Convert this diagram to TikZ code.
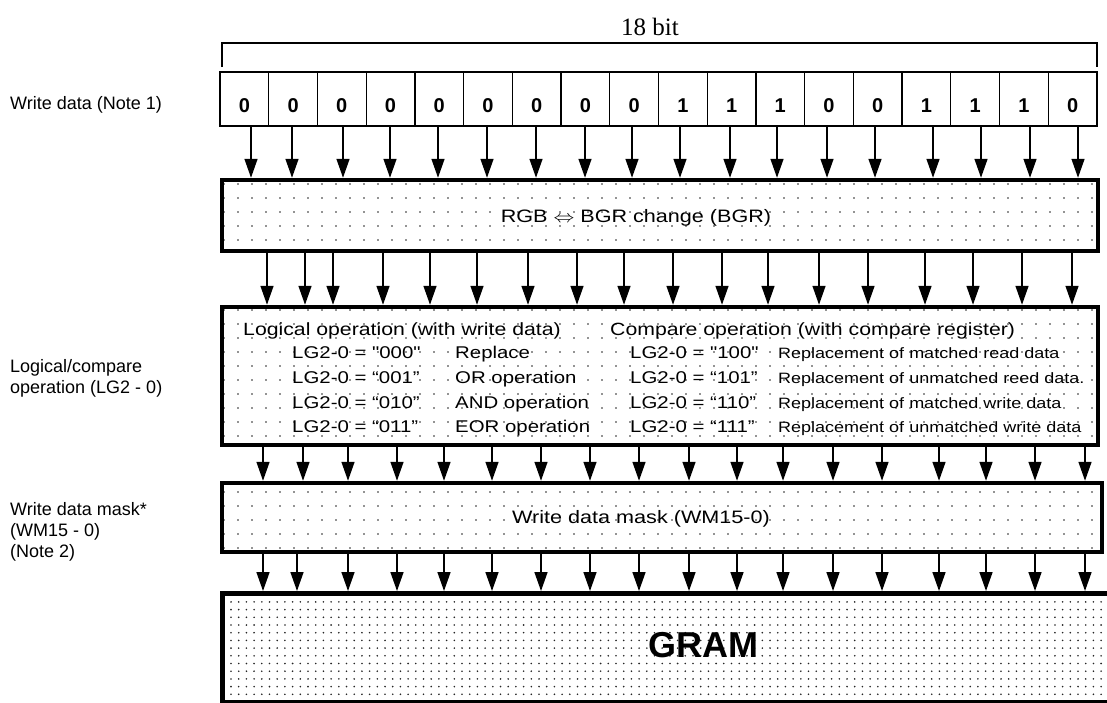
\documentclass[tikz,border=0pt]{standalone}
\usepackage{fontspec}
\setmainfont{Liberation Sans}[Ligatures=TeXOff]
\newfontfamily\seriffont{Liberation Serif}
\usetikzlibrary{arrows.meta,patterns.meta}

% text inside the boxes is printed a little wide
\newcommand{\wide}[1]{\scalebox{1.2}[1]{#1}}

\begin{document}
\begin{tikzpicture}[x=1pt, y=-1pt, >={Triangle[width=13pt,length=19pt]},
  bit/.style={draw, line width=1.3pt, minimum width=48.72pt, minimum height=54pt, inner sep=0pt, font=\fontsize{20}{24}\selectfont\bfseries},
  opbox/.style={draw, line width=4.5pt, inner sep=0pt, pattern={Dots[distance=14pt,radius=0.9pt]}, pattern color=black!85},
  flow/.style={->, line width=1.5pt},
  side/.style={anchor=west, align=left, inner sep=0pt, font=\fontsize{18}{21}\selectfont},
  boxtext/.style={inner sep=0pt, font=\fontsize{18}{21}\selectfont},
  headtext/.style={anchor=base west, inner sep=0pt, font=\fontsize{17.7}{20}\selectfont},
  optext/.style={anchor=base west, inner sep=0pt, font=\fontsize{17}{20}\selectfont},
  reptext/.style={anchor=base west, inner sep=0pt, font=\fontsize{15}{18}\selectfont}]

\useasboundingbox (0,0) rectangle (1107,702);

% Parameters
\def\bw{48.72}   % width of one bit box
\def\bx{220}     % left edge of the bit row

% Side labels
\node[side] (wdlabel) at (10,105) {Write data (Note 1)};
\node[side] (lglabel) at (10,378) {Logical/compare\\operation (LG2 - 0)};
\node[side] (wmlabel) at (10,532) {Write data mask*\\(WM15 - 0)\\(Note 2)};

% Width bracket
\node[font=\seriffont\fontsize{25}{30}\selectfont] (width) at (650,27) {18 bit};
\draw[line width=1.3pt] (222,67) -- (222,43) -- (1097,43) -- (1097,67);

% Write data bits
\foreach \v [count=\i] in {0,0,0,0,0,0,0,0,0,1,1,1,0,0,1,1,1,0}
{
    \node[bit] (b\i) at ({\bx+\bw*(\i-0.5)},99) {\raisebox{-13pt}[0pt][0pt]{\v}};
}

% RGB/BGR change
\node[opbox, minimum width=876pt, minimum height=71pt] (rgb) at (660,215.5) {};
\node[boxtext] (rgbtext) at (636,218) {\wide{RGB $\Leftrightarrow$ BGR change (BGR)}};

% Logical / compare operation
\node[opbox, minimum width=876pt, minimum height=138pt] (logic) at (660,376) {};
\node[headtext] (lhead) at (243,335) {\wide{Logical operation (with write data)}};
\node[headtext] (chead) at (610,335) {\wide{Compare operation (with compare register)}};
\foreach \y/\a/\op/\c/\rep in {358/"000"/Replace/"100"/Replacement of matched read data,
    383/“001”/OR operation/“101”/Replacement of unmatched reed data.,
    408/“010”/AND operation/“110”/Replacement of matched write data,
    432/“011”/EOR operation/“111”/Replacement of unmatched write data}
{
    \node[optext] (la\y) at (292,\y) {\wide{LG2-0 = \a}};
    \node[optext] (lo\y) at (455,\y) {\wide{\op}};
    \node[optext] (ca\y) at (630,\y) {\wide{LG2-0 = \c}};
    \node[reptext] (cr\y) at (778,\y) {\wide{\rep}};
}

% Write data mask
\node[opbox, minimum width=880pt, minimum height=69pt] (mask) at (662,517.5) {};
\node[boxtext] (masktext) at (641,519) {\wide{Write data mask (WM15-0)}};

% GRAM (runs off the right edge)
\node[draw, line width=4.5pt, pattern={Dots[distance=7.7pt,radius=0.9pt]}, pattern color=black!85,
      minimum width=905pt, minimum height=108.5pt, anchor=north west] (gram) at (220,591) {};
\node[font=\fontsize{36}{40}\selectfont\bfseries] (gramtext) at (703,645) {GRAM};

% Arrows: bits -> RGB/BGR change
\foreach \i/\x in {1/251,2/292,3/343,4/390,5/438,6/487,7/536,8/585,9/632,
                   10/680,11/730,12/777,13/827,14/875,15/933,16/981,17/1030,18/1078}
{
    \draw[flow] (\x,0 |- b\i.south) -- (\x,0 |- rgb.north);
}

% Arrows: RGB/BGR change -> logical operation
\foreach \x in {267,305,333,383,430,477,528,577,624,673,722,768,819,868,925,973,1022,1072}
{
    \draw[flow] (\x,0 |- rgb.south) -- (\x,0 |- logic.north);
}

% Arrows: logical operation -> write data mask
\foreach \x in {263,303,348,397,444,492,541,590,639,689,737,783,833,882,939,986,1035,1085}
{
    \draw[flow] (\x,0 |- logic.south) -- (\x,0 |- mask.north);
}

% Arrows: write data mask -> GRAM
\foreach \x in {263,297,348,397,444,492,541,590,639,689,737,783,833,882,939,986,1035,1085}
{
    \draw[flow] (\x,0 |- mask.south) -- (\x,0 |- gram.north);
}

\end{tikzpicture}
\end{document}
